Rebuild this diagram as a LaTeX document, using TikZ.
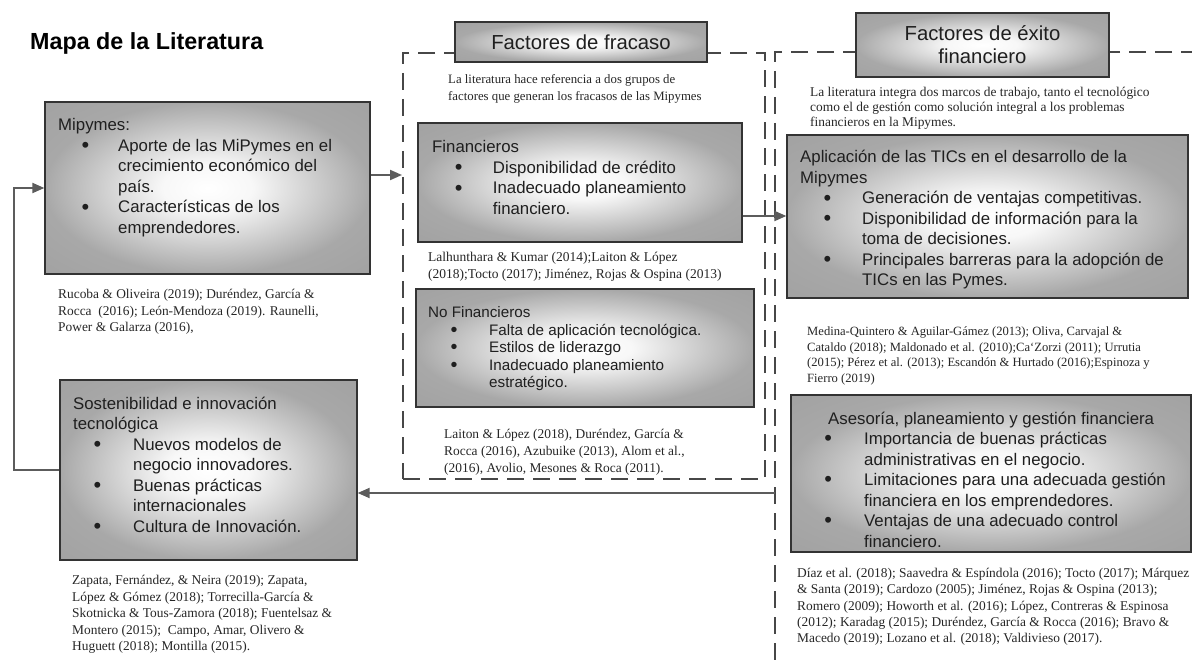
\documentclass[tikz,border=0pt]{standalone}
\usepackage{fontspec}
\setmainfont{Liberation Serif}
\setsansfont{Liberation Sans}
\usetikzlibrary{arrows.meta}
\newlength\bxo
\newlength\txo
\newcommand\bu{\makebox[\txo][l]{\hspace*{\bxo}\hspace*{-1pt}\raisebox{-1.3pt}{\scalebox{1.3}{\textbullet}}}}
\newcommand\ct{\hspace*{\txo}}
\pgfdeclareradialshading{boxsh}{\pgfpoint{0bp}{0bp}}{color(0bp)=(white); color(7bp)=(white!97!black); color(25bp)=(black!34); color(50bp)=(black!40)}
\begin{document}
\begin{tikzpicture}[x=1pt,y=-1pt,
  box/.style 2 args={draw=black!80, line width=1.3pt, shading=boxsh, inner sep=0pt, minimum width=#1pt, minimum height=#2pt},
  btxt/.style={anchor=base west, inner sep=0pt, font=\sffamily\fontsize{16.8}{20.5}\selectfont, text=black!88},
  ctxt/.style={anchor=base west, inner sep=0pt, font=\fontsize{13.4}{16.5}\selectfont, text=black!85},
  ttxt/.style={font=\sffamily\fontsize{20.3}{23}\selectfont, align=center, text=black!88},
  arr/.style={draw=black!64, line width=2pt, -{Triangle[length=12pt,width=10pt]}},
  dsh/.style={draw=black!72, line width=2pt, dash pattern=on 17pt off 9pt}]
\useasboundingbox (0,0) rectangle (1192,666);
\fill[white] (0,0) rectangle (1192,666);

% title
\node[anchor=base west, inner sep=0pt, font=\sffamily\bfseries\fontsize{23.3}{27}\selectfont] (title) at (30,50) {Mapa de la Literatura};

% containers
\node[dsh, minimum width=362pt, minimum height=426pt, inner sep=0pt] (midc) at (584,266) {};
\coordinate (rtr) at (1198,52);
\coordinate (rtl) at (775,52);
\coordinate (rbl) at (775,672);
\draw[dsh] (rtr) -- (rtl) -- (rbl);

% title boxes
\node[box={252}{40}, ttxt] (ftit) at (581,42) {Factores de fracaso};
\node[box={253}{64}, ttxt] (etit) at (982.5,45) {Factores de éxito\\financiero};

% boxes
\node[box={325}{172}] (mip) at (207.5,188) {};
\node[box={297}{180}] (sos) at (208.5,470) {};
\node[box={324}{119}] (fin) at (580,182.5) {};
\node[box={338}{118}] (nofin) at (585,348) {};
\node[box={401}{163}] (tic) at (987.5,216.5) {};
\node[box={400}{157}] (ase) at (991,473.5) {};

% box texts
\node[btxt] (miptx) at (58,131) {\setlength\bxo{24.3pt}\setlength\txo{60pt}\begin{tabular}[t]{@{}l@{}}
Mipymes:\\
\bu Aporte de las MiPymes en el\\
\ct crecimiento económico del\\
\ct país.\\
\bu Características de los\\
\ct emprendedores.
\end{tabular}};

\node[btxt] (fintx) at (432,153) {\setlength\bxo{23.6pt}\setlength\txo{60.7pt}\begin{tabular}[t]{@{}l@{}}
Financieros\\
\bu Disponibilidad de crédito\\
\bu Inadecuado planeamiento\\
\ct financiero.
\end{tabular}};

\node[btxt, font=\sffamily\fontsize{15.2}{17.5}\selectfont] (nofintx) at (428,317.5) {\setlength\bxo{23.5pt}\setlength\txo{61pt}\begin{tabular}[t]{@{}l@{}}
No Financieros\\
\bu Falta de aplicación tecnológica.\\
\bu Estilos de liderazgo\\
\bu Inadecuado planeamiento\\
\ct estratégico.
\end{tabular}};

\node[btxt] (tictx) at (800,163) {\setlength\bxo{24.3pt}\setlength\txo{62pt}\begin{tabular}[t]{@{}l@{}}
Aplicación de las TICs en el desarrollo de la\\
Mipymes\\
\bu Generación de ventajas competitivas.\\
\bu Disponibilidad de información para la\\
\ct toma de decisiones.\\
\bu Principales barreras para la adopción de\\
\ct TICs en las Pymes.
\end{tabular}};

\node[btxt] (asetx) at (828,424) {\setlength\bxo{-2.9pt}\setlength\txo{36pt}\begin{tabular}[t]{@{}l@{}}
Asesoría, planeamiento y gestión financiera\\
\bu Importancia de buenas prácticas\\
\ct administrativas en el negocio.\\
\bu Limitaciones para una adecuada gestión\\
\ct financiera en los emprendedores.\\
\bu Ventajas de una adecuado control\\
\ct financiero.
\end{tabular}};

\node[btxt] (sostx) at (73,409) {\setlength\bxo{21.3pt}\setlength\txo{60pt}\begin{tabular}[t]{@{}l@{}}
Sostenibilidad e innovación\\
tecnológica\\
\bu Nuevos modelos de\\
\ct negocio innovadores.\\
\bu Buenas prácticas\\
\ct internacionales\\
\bu Cultura de Innovación.
\end{tabular}};

% descriptions
\node[ctxt, font=\fontsize{12.8}{17.4}\selectfont] (middesc) at (448,83.5) {\begin{tabular}[t]{@{}l@{}}
La literatura hace referencia a dos grupos de\\
factores que generan los fracasos de las Mipymes
\end{tabular}};
\node[ctxt, font=\fontsize{13.4}{15}\selectfont] (rdesc) at (810,97) {\begin{tabular}[t]{@{}l@{}}
La literatura integra dos marcos de trabajo, tanto el tecnológico\\
como el de gestión como solución integral a los problemas\\
financieros en la Mipymes.
\end{tabular}};

% citations
\node[ctxt] (mipc) at (58,298.5) {\begin{tabular}[t]{@{}l@{}}
Rucoba \& Oliveira (2019); Duréndez, García \&\\
Rocca\ \ (2016); León-Mendoza (2019). Raunelli,\\
Power \& Galarza (2016),
\end{tabular}};
\node[ctxt, font=\fontsize{13.5}{17}\selectfont] (finc) at (428,261.5) {\begin{tabular}[t]{@{}l@{}}
Lalhunthara \& Kumar (2014);Laiton \& López\\
(2018);Tocto (2017); Jiménez, Rojas \& Ospina (2013)
\end{tabular}};
\node[ctxt, font=\fontsize{13.4}{17}\selectfont] (nofinc) at (444,438.5) {\begin{tabular}[t]{@{}l@{}}
Laiton \& López (2018), Duréndez, García \&\\
Rocca (2016), Azubuike (2013), Alom et al.,\\
(2016), Avolio, Mesones \& Roca (2011).
\end{tabular}};
\node[ctxt, font=\fontsize{12.6}{15.7}\selectfont] (ticc) at (807,335.3) {\begin{tabular}[t]{@{}l@{}}
Medina-Quintero \& Aguilar-Gámez (2013); Oliva, Carvajal \&\\
Cataldo (2018); Maldonado et al. (2010);Ca\char"60 Zorzi (2011); Urrutia\\
(2015); Pérez et al. (2013); Escandón \& Hurtado (2016);Espinoza y\\
Fierro (2019)
\end{tabular}};
\node[ctxt, font=\fontsize{13.4}{16.3}\selectfont] (asec) at (797,577.5) {\begin{tabular}[t]{@{}l@{}}
Díaz et al. (2018); Saavedra \& Espíndola (2016); Tocto (2017); Márquez\\
\& Santa (2019); Cardozo (2005); Jiménez, Rojas \& Ospina (2013);\\
Romero (2009); Howorth et al. (2016); López, Contreras \& Espinosa\\
(2012); Karadag (2015); Duréndez, García \& Rocca (2016); Bravo \&\\
Macedo (2019); Lozano et al. (2018); Valdivieso (2017).
\end{tabular}};
\node[ctxt] (sosc) at (72,584.5) {\begin{tabular}[t]{@{}l@{}}
Zapata, Fernández, \& Neira (2019); Zapata,\\
López \& Gómez (2018); Torrecilla-García \&\\
Skotnicka \& Tous-Zamora (2018); Fuentelsaz \&\\
Montero (2015);\ \ Campo, Amar, Olivero \&\\
Huguett (2018); Montilla (2015).
\end{tabular}};

% connectors
\coordinate (a1) at (0,175);
\coordinate (a2) at (0,216);
\coordinate (ra) at (775,493);
\coordinate (fb) at (14,0);
\draw[arr] (mip.east |- a1) -- (midc.west |- a1);
\draw[arr] (fin.east |- a2) -- (tic.west |- a2);
\draw[arr] (ra) -- (ra -| sos.east);
\draw[arr] (sos.west) -- (sos.west -| fb) -- (mip.west -| fb) -- (mip.west);
\end{tikzpicture}
\end{document}
